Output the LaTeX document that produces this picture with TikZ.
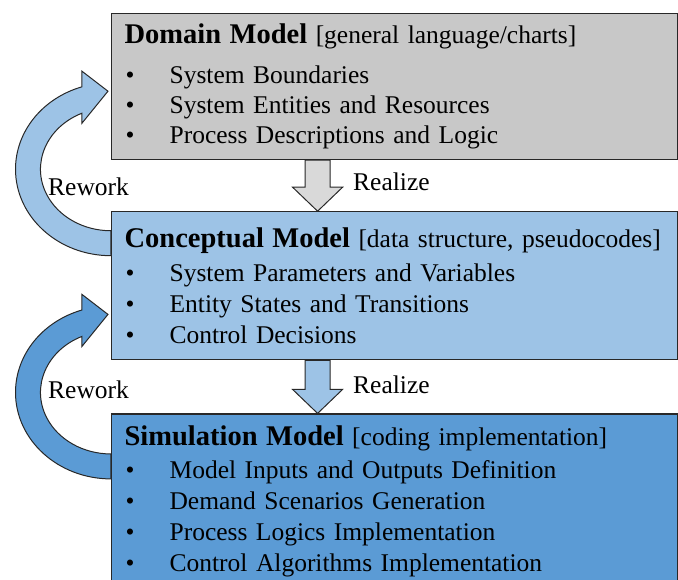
\documentclass[tikz,border=0pt]{standalone}
\usepackage{fontspec}
\setmainfont{Liberation Serif}
\usepackage{tikz}
\usetikzlibrary{positioning}

\definecolor{domaingray}{RGB}{200,200,200}
\definecolor{lightblue}{RGB}{157,195,230}
\definecolor{midblue}{RGB}{91,155,213}
\definecolor{arrowgray}{RGB}{217,217,217}
\definecolor{outline}{RGB}{40,40,40}

\newcommand{\mtitle}[1]{{\fontsize{28.5}{31}\selectfont\bfseries #1}}
\newcommand{\bitem}{\makebox[45pt][l]{\hspace{1pt}\textbullet}}

\begin{document}
\begin{tikzpicture}
    [ x = 1pt, y = 1pt
    , model/.style =
      { draw = outline, line width = 1.2pt, anchor = north west
      , minimum width = 566pt, text width = 540pt, inner xsep = 13pt
      , align = left, font = \fontsize{25.5}{31}\selectfont }
    , realize/.style =
      { draw = outline, line width = 1pt, line join = miter }
    , rework/.style =
      { draw = outline, line width = 1pt }
    , note/.style =
      { inner sep = 0pt, anchor = base west, font = \fontsize{25.5}{31}\selectfont }
    ]
    \useasboundingbox (0,0) rectangle (678,-579);
    \clip (0,0) rectangle (678,-579);

    \node [model, fill=domaingray, minimum height=146pt, font=\fontsize{25.5}{30}\selectfont]
      (domain) at (111,-13)
      {\vspace*{5pt}\mtitle{Domain Model} [general language/charts]\\[4.5pt]
       \bitem System Boundaries\\
       \bitem System Entities and Resources\\
       \bitem Process Descriptions and Logic};
    \node [model, fill=lightblue, minimum height=148pt, below=51pt of domain] (concept)
      {\mtitle{Conceptual Model} [data structure, pseudocodes]\\[2.5pt]
       \bitem System Parameters and Variables\\
       \bitem Entity States and Transitions\\
       \bitem Control Decisions};
    \node [model, fill=midblue, minimum height=174pt, below=53pt of concept] (simul)
      {\mtitle{Simulation Model} [coding implementation]\\[2pt]
       \bitem Model Inputs and Outputs Definition\\
       \bitem Demand Scenarios Generation\\
       \bitem Process Logics Implementation\\
       \bitem Control Algorithms Implementation};

    % realize arrows
    \draw [realize, fill=arrowgray] ([xshift=-89.5pt]domain.south)
      -- ([xshift=-89.5pt,yshift=24pt]concept.north) -- ++(-12.5,0)
      -- ([xshift=-77pt]concept.north) -- ++(25,24) -- ++(-12.5,0)
      -- ([xshift=-64.5pt]domain.south) -- cycle;
    \draw [realize, fill=lightblue] ([xshift=-89.5pt]concept.south)
      -- ([xshift=-89.5pt,yshift=24pt]simul.north) -- ++(-12.5,0)
      -- ([xshift=-77pt]simul.north) -- ++(25,24) -- ++(-12.5,0)
      -- ([xshift=-64.5pt]concept.south) -- cycle;

    % rework arrows
    \draw [rework, fill=lightblue] ([yshift=-44.5pt]concept.north west)
      arc [start angle=-90, end angle=-252.3, x radius=95.5pt, y radius=86.5pt]
      -- ++(0,15.6) -- ++(26,-20) -- ++(-26,-32) -- ++(0,10)
      arc [start angle=-245.7, end angle=-90, x radius=70.5pt, y radius=61.5pt]
      -- cycle;
    \draw [rework, fill=midblue] ([yshift=-65.5pt]simul.north west)
      arc [start angle=-90, end angle=-252.3, x radius=95.5pt, y radius=86.5pt]
      -- ++(0,15.6) -- ++(26,-20) -- ++(-26,-32) -- ++(0,10)
      arc [start angle=-245.7, end angle=-90, x radius=70.5pt, y radius=61.5pt]
      -- cycle;

    \node [note] (rework1) at (48,-195) {Rework};
    \node [note] (rework2) at (48,-398) {Rework};
    \node [note] (realize1) at (353,-190) {Realize};
    \node [note] (realize2) at (353,-393) {Realize};
\end{tikzpicture}
\end{document}
